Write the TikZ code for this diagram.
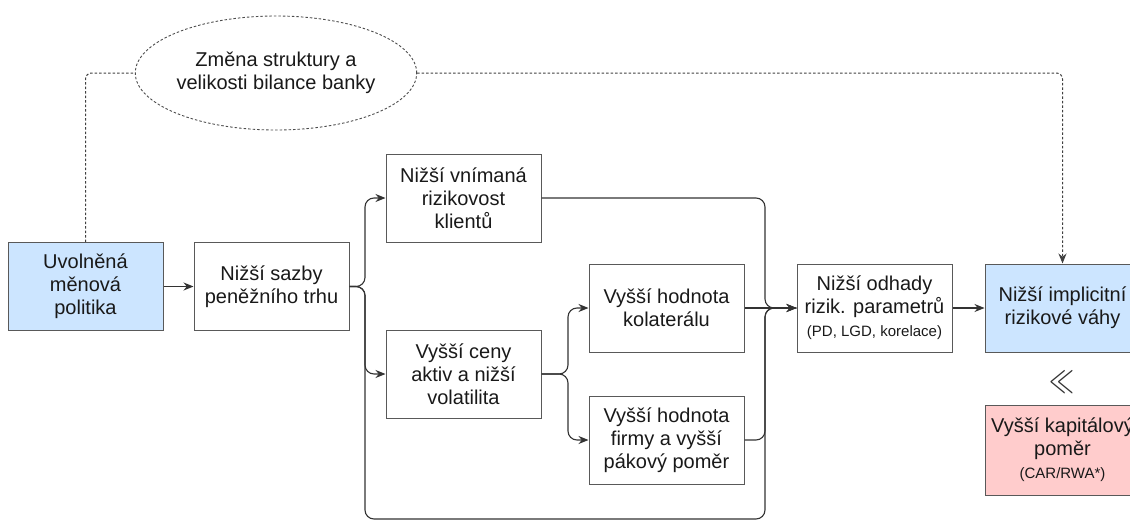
\documentclass[tikz,border=0pt]{standalone}
\usepackage{fontspec}
\usepackage{graphicx}
\setmainfont{Liberation Sans}
\usetikzlibrary{arrows.meta,shapes.geometric}
\definecolor{lblue}{HTML}{CCE5FF}
\definecolor{lred}{HTML}{FFCCCC}
\definecolor{edgec}{HTML}{333333}
\newcommand{\smalltxt}{\fontsize{15}{17}\selectfont}

\begin{document}
\begin{tikzpicture}[x=1pt,y=-1pt]%
  \tikzstyle{boxn}=[rectangle,draw=black!65,line width=1pt,minimum width=155,minimum height=88,
    align=center,inner sep=2,font=\fontsize{20}{23}\selectfont,text=black!90]
  \tikzstyle{elln}=[ellipse,draw=black!70,line width=0.9pt,dash pattern=on 2.5pt off 2pt,
    minimum width=242,minimum height=114,inner sep=0,align=center,font=\fontsize{20}{23}\selectfont,text=black!90]
  \tikzstyle{link}=[draw=edgec,line width=1.1pt,rounded corners=9pt]
  \tikzstyle{arr}=[link,-{Stealth[length=10pt,width=8pt]}]
  \tikzstyle{dotl}=[draw=black!75,line width=1pt,dash pattern=on 2.5pt off 2pt,rounded corners=6pt]
  \useasboundingbox (0,0) rectangle (1130,522);
  % boxes
  \node(uvol)[boxn,fill=lblue] at (85.5,286.5) {Uvolněná\\měnová\\politika};
  \node(sazby)[boxn] at (271.5,286.5) {Nižší sazby\\peněžního trhu};
  \node(vnim)[boxn] at (463.5,198) {Nižší vnímaná\\rizikovost\\klientů};
  \node(ceny)[boxn] at (463.5,374) {Vyšší ceny\\aktiv a nižší\\volatilita};
  \node(kolat)[boxn] at (666.5,308) {Vyšší hodnota\\kolaterálu};
  \node(firmy)[boxn] at (666.5,440) {Vyšší hodnota\\firmy a vyšší\\pákový poměr};
  \node(odhady)[boxn] at (874.5,308) {Nižší odhady\\rizik. parametrů\\{\smalltxt (PD, LGD, korelace)}};
  \node(impl)[boxn,fill=lblue] at (1062.5,308) {Nižší implicitní\\rizikové váhy};
  \node(kap)[boxn,fill=lred,minimum height=90] at (1062.5,450) {Vyšší kapitálový\\poměr\\{\smalltxt (CAR/RWA*)}};
  \node(rel)[text=edgec] at (1062,382) {\fontsize{30}{30}\selectfont\scalebox{1}[1.5]{$\ll$}};
  \node(zmena)[elln] at (276,73) {Změna struktury a\\velikosti bilance banky};
  % buses
  \coordinate(lbus) at (365,519);
  \coordinate(rbus) at (765,519);
  \coordinate(mbus) at (568,440);
  % connectors
  \draw[arr] (uvol.east) -- (sazby.west);
  \draw[arr] (sazby.east) -| (lbus |- vnim.west) -- (vnim.west);
  \draw[arr] (sazby.east) -| (lbus |- ceny.west) -- (ceny.west);
  \draw[link] (sazby.east) -| (lbus) -| (rbus |- odhady.west) -- (odhady.west);
  \draw[arr] (ceny.east) -| (mbus |- kolat.west) -- (kolat.west);
  \draw[arr] (ceny.east) -| (mbus |- firmy.west) -- (firmy.west);
  \draw[arr] (vnim.east) -| (rbus |- odhady.west) -- (odhady.west);
  \draw[arr] (kolat.east) -- (odhady.west);
  \draw[arr] (firmy.east) -| (rbus |- odhady.west) -- (odhady.west);
  \draw[arr] (odhady.east) -- (impl.west);
  \draw[dotl] (uvol.north) |- (zmena.west);
  \draw[dotl,-{Stealth[length=10pt,width=8pt]}] (zmena.east) -| (impl.north);
\end{tikzpicture}
\end{document}
